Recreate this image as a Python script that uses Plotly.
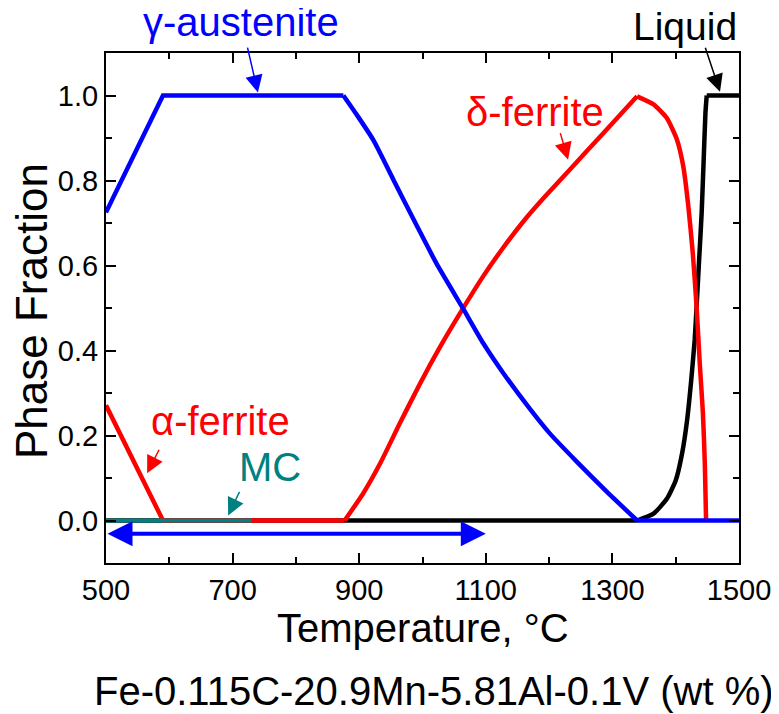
import plotly.graph_objects as go

# ---- data ----
gamma_rise_T = [500, 590, 875]
gamma_rise_f = [0.725, 1.0, 1.0]
gamma_fall_T = [875, 896, 922, 954, 986, 1022, 1064, 1096, 1128, 1170, 1201, 1244, 1291, 1339]
gamma_fall_f = [1.0, 0.955, 0.896, 0.802, 0.708, 0.605, 0.499, 0.417, 0.346, 0.262, 0.205, 0.138, 0.068, 0.0]
gamma_zero_T = [1339, 1500]
gamma_zero_f = [0.0, 0.0]

alpha_T = [500, 590, 877]
alpha_f = [0.271, 0.0, 0.0]

delta_rise_T = [877, 906, 933, 964, 996, 1028, 1064, 1096, 1128, 1159, 1191, 1233, 1286, 1339]
delta_rise_f = [0.0, 0.063, 0.134, 0.228, 0.322, 0.409, 0.499, 0.575, 0.643, 0.703, 0.758, 0.826, 0.912, 0.998]
delta_fall_T = [1339, 1365, 1386, 1402, 1412, 1420, 1427, 1433, 1438, 1443, 1446, 1448]
delta_fall_f = [0.998, 0.979, 0.947, 0.896, 0.833, 0.739, 0.629, 0.503, 0.370, 0.252, 0.134, 0.0]

liquid_zero_T = [500, 1339]
liquid_zero_f = [0.0, 0.0]
liquid_rise_T = [1339, 1365, 1386, 1400, 1410, 1418, 1424.5, 1430, 1433, 1437, 1441, 1444, 1447, 1449]
liquid_rise_f = [0.0, 0.016, 0.051, 0.094, 0.157, 0.236, 0.330, 0.425, 0.503, 0.613, 0.723, 0.841, 0.959, 1.0]
liquid_top_T = [1449, 1500]
liquid_top_f = [1.0, 1.0]

mc_T = [500, 730]
mc_f = [0.0, 0.0]

x_ticks = [500, 700, 900, 1100, 1300, 1500]
y_ticks = [0.0, 0.2, 0.4, 0.6, 0.8, 1.0]
y_tick_labels = ["0.0", "0.2", "0.4", "0.6", "0.8", "1.0"]

BLUE = "#0000FF"
RED = "#FF0000"
TEAL = "#008080"
BLACK = "#000000"
FONT = "Liberation Sans, Arial, sans-serif"

# page has an 8px body margin; plot area in the screenshot: x 106..739, y 53..563
PL, PR, PT, PB = 106, 739, 53, 563
W, H = 771, 706
ML, MT = PL - 8, PT - 8
MR = W - ML - (PR - PL)
MB = H - MT - (PB - PT)

def px2paper(px, py):
    return (px - PL) / (PR - PL), 1 - (py - PT) / (PB - PT)

fig = go.Figure()

def line(xs, ys, color, width=4.5, shape="linear"):
    fig.add_trace(go.Scatter(x=xs, y=ys, mode="lines", showlegend=False,
                             line=dict(color=color, width=width, shape=shape,
                                       smoothing=0.5 if shape == "spline" else None)))

line(liquid_zero_T, liquid_zero_f, BLACK)
line(liquid_rise_T, liquid_rise_f, BLACK, shape="spline")
line(liquid_top_T, liquid_top_f, BLACK)
line(alpha_T, alpha_f, RED)
line(delta_rise_T, delta_rise_f, RED, shape="spline")
line(delta_fall_T, delta_fall_f, RED, shape="spline")
line(mc_T, mc_f, TEAL, width=4)
line(gamma_rise_T, gamma_rise_f, BLUE)
line(gamma_fall_T, gamma_fall_f, BLUE, shape="spline")
line(gamma_zero_T, gamma_zero_f, BLUE)

def text_at(text, px, py, color, size=40, angle=0):
    x, y = px2paper(px, py)
    fig.add_annotation(x=x, y=y, xref="paper", yref="paper", text=text, showarrow=False,
                       textangle=angle, font=dict(family=FONT, size=size, color=color),
                       xanchor="center", yanchor="middle", borderpad=0)

def pointer(x_tail, y_tail, x_head, y_head, color):
    fig.add_annotation(x=x_head, y=y_head, ax=x_tail, ay=y_tail,
                       xref="x", yref="y", axref="x", ayref="y",
                       text="", showarrow=True, arrowhead=2, arrowsize=2.3,
                       arrowwidth=1.5, arrowcolor=color, standoff=0)

text_at("γ-austenite", 241, 22, BLUE)
pointer(723, 1.116, 740, 1.007, BLUE)
text_at("δ-ferrite", 535, 112, RED)
pointer(1217, 0.915, 1230, 0.849, RED)
text_at("Liquid", 685, 27, BLACK, size=39)
pointer(1446, 1.116, 1470, 1.009, BLACK)
text_at("α-ferrite", 220, 421, RED)
pointer(585, 0.170, 565, 0.111, RED)
text_at("MC", 270, 467, TEAL)
pointer(712, 0.071, 693, 0.012, TEAL)

# double-headed blue arrow
fig.add_annotation(x=1100, y=-0.031, ax=500, ay=-0.031,
                   xref="x", yref="y", axref="x", ayref="y",
                   text="", showarrow=True, arrowhead=2, startarrowhead=2,
                   arrowside="end+start", arrowsize=1.25, startarrowsize=1.25,
                   arrowwidth=4, arrowcolor=BLUE, standoff=0, startstandoff=0)

# axis titles and footer
text_at("Temperature, °C", 423, 628, BLACK, size=40)
text_at("Phase Fraction", 31, 311, BLACK, size=44, angle=-90)
text_at("Fe-0.115C-20.9Mn-5.81Al-0.1V (wt %)", 434, 691, BLACK, size=40)

axis_common = dict(showline=True, linecolor=BLACK, linewidth=2, mirror="allticks",
                   ticks="inside", ticklen=10, tickwidth=2, tickcolor=BLACK,
                   showgrid=False, zeroline=False,
                   tickfont=dict(family=FONT, size=29, color=BLACK))

fig.update_xaxes(range=[500, 1500], tickvals=x_ticks,
                 minor=dict(dtick=100, ticks="inside", ticklen=6, tickwidth=2, tickcolor=BLACK),
                 **axis_common)
fig.update_yaxes(range=[-0.1, 1.1], tickvals=y_ticks, ticktext=y_tick_labels,
                 minor=dict(dtick=0.1, tick0=0, ticks="inside", ticklen=6, tickwidth=2, tickcolor=BLACK),
                 **axis_common)

fig.update_layout(width=W, height=H, showlegend=False,
                  margin=dict(l=ML, r=MR, t=MT, b=MB, autoexpand=False),
                  plot_bgcolor="white", paper_bgcolor="white",
                  font=dict(family=FONT, color=BLACK))

fig.write_html("out.html")
